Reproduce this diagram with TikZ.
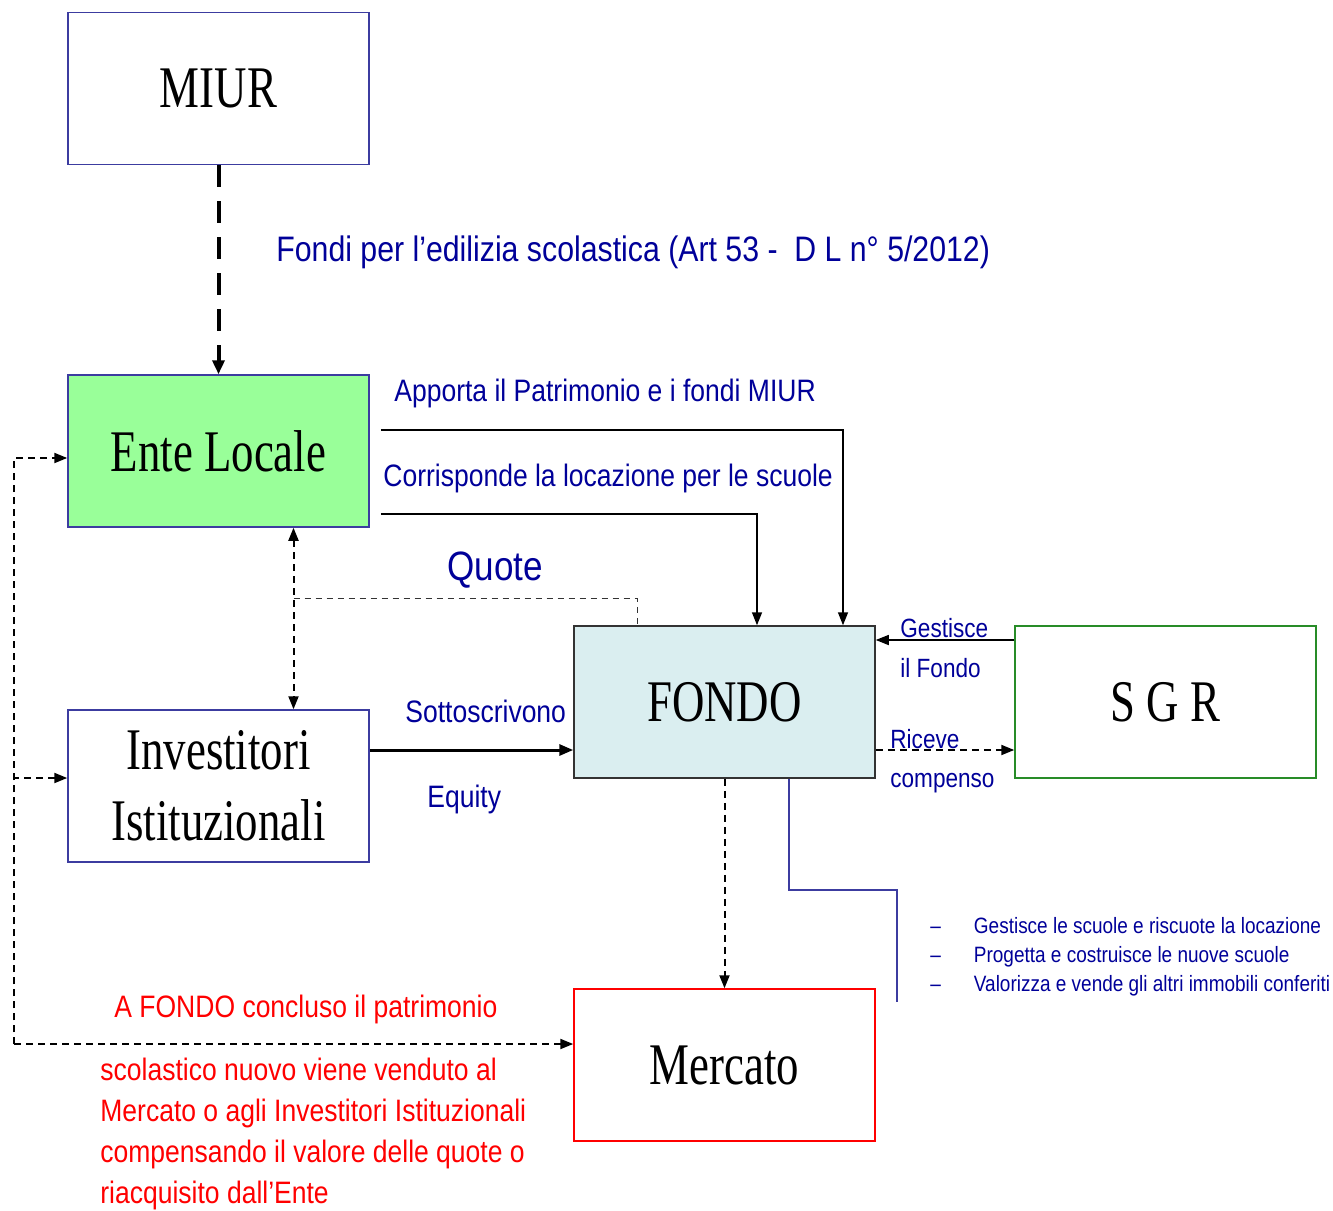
\documentclass[tikz,border=0pt]{standalone}
\usepackage{fontspec}
\setmainfont{Liberation Sans}[FakeStretch=0.855]
\newfontfamily\boxfont{Liberation Serif}[FakeStretch=0.76]
\usetikzlibrary{arrows.meta}
\usetikzlibrary{calc}
\usetikzlibrary{positioning}

\definecolor{labelblue}{RGB}{0,0,153}
\definecolor{boxblue}{RGB}{60,60,160}
\definecolor{entegreen}{RGB}{153,255,153}
\definecolor{fondofill}{RGB}{218,238,240}
\definecolor{sgrgreen}{RGB}{40,140,40}
\definecolor{mercred}{RGB}{255,0,0}

\begin{document}
\begin{tikzpicture}[x=0.5pt,y=-0.5pt,
    box/.style={draw=boxblue,line width=0.75pt,minimum width=150.5pt,minimum height=76pt,inner sep=0pt,align=center,font=\boxfont\fontsize{29.5}{35.4}\selectfont},
    lbl/.style={text=labelblue,anchor=base west,inner sep=0pt,font=\fontsize{15.5}{18.6}\selectfont},
    flow/.style={-{Triangle[length=6.5pt,width=5pt]},line width=0.75pt},
    dline/.style={dash pattern=on 3.5pt off 2.5pt,line width=1pt}]
    \useasboundingbox (0,0) rectangle (1333,1210);

    \node[box] (miur) at (218.5,88.5) {MIUR};
    \node[box,fill=entegreen] (ente) at (218.5,451) {Ente Locale};
    \node[box] (invest) at (218.5,786) {Investitori\\Istituzionali};
    \node[box,draw=black!80,fill=fondofill] (fondo) at (724.5,702) {FONDO};
    \node[box,draw=sgrgreen] (sgr) at (1165.5,702) {S G R};
    \node[box,draw=mercred] (mercato) at (724.5,1065) {Mercato};

    \node[lbl,font=\fontsize{17.7}{21.2}\selectfont] (fondi) at (276,261) {Fondi per l’edilizia scolastica (Art 53 -\ \ D L n° 5/2012)};
    \node[lbl] (apporta) at (394,401) {Apporta il Patrimonio e i fondi MIUR};
    \node[lbl] (corrisp) at (383,486) {Corrisponde la locazione per le scuole};
    \node[lbl,font=\fontsize{20.5}{24.6}\selectfont] (quote) at (447,580) {Quote};
    \node[lbl] (sottos) at (405,722) {Sottoscrivono};
    \node[lbl] (equity) at (427,807) {Equity};
    \node[lbl,font=\fontsize{13.2}{16}\selectfont] (gest) at (900,637) {Gestisce};
    \node[lbl,font=\fontsize{13.2}{16}\selectfont] (ilfondo) at (900,677) {il Fondo};
    \node[lbl,font=\fontsize{13.2}{16}\selectfont] (riceve) at (890,748) {Riceve};
    \node[lbl,font=\fontsize{13.2}{16}\selectfont] (compenso) at (890,787) {compenso};

    \node[lbl,font=\fontsize{11.1}{14.6}\selectfont] (tasks) at (930,933) {\begin{tabular}[t]{@{}l@{\hspace{16.5pt}}l@{}}
        – & Gestisce le scuole e riscuote la locazione\\
        – & Progetta e costruisce le nuove scuole\\
        – & Valorizza e vende gli altri immobili conferiti
      \end{tabular}};

    \node[lbl,text=mercred] (fine) at (114,1017) {A FONDO concluso il patrimonio};
    \node[lbl,text=mercred,font=\fontsize{15.5}{20.6}\selectfont] (finetxt) at (100,1080) {\begin{tabular}[t]{@{}l@{}}
        scolastico nuovo viene venduto al\\
        Mercato o agli Investitori Istituzionali\\
        compensando il valore delle quote o\\
        riacquisito dall’Ente
      \end{tabular}};

    % MIUR finanzia l'ente
    \draw[-{Triangle[length=7pt,width=6pt]},line width=2pt,dash pattern=on 11pt off 7pt] (miur) -- (ente);

    % ente -> fondo
    \draw[flow] ($(ente.east)+(11,-21)$) -| ($(fondo.north)+(118.5,0)$);
    \draw[flow] ($(ente.east)+(11,63)$) -| ($(fondo.north)+(32.5,0)$);

    % quote
    \draw[dline,{Triangle[length=6.5pt,width=5pt]}-{Triangle[length=6.5pt,width=5pt]}] ($(ente.south)+(75,0)$) -- ($(invest.north)+(75,0)$);
    \draw[dash pattern=on 3pt off 2.5pt,line width=0.6pt,black!80] ($(ente.south)+(75,71)$) -| ($(fondo.north)+(-87,0)$);

    % investitori sottoscrivono
    \draw[-{Triangle[length=7pt,width=5.5pt]},line width=1.5pt] ($(invest.east)+(0,-36)$) coordinate (sott) -- (sott -| fondo.west);

    % SGR
    \draw[flow] ($(sgr.west)+(0,-62)$) coordinate (gsgr) -- (gsgr -| fondo.east);
    \draw[dline,-{Triangle[length=6.5pt,width=5pt]}] ($(fondo.east)+(0,48)$) coordinate (rsgr) -- (rsgr -| sgr.west);

    % fondo -> mercato
    \draw[dline,-{Triangle[length=6.5pt,width=5pt]}] (fondo) -- (mercato);

    % compiti del fondo
    \coordinate (taskend) at (897,1002);
    \draw[boxblue,line width=0.75pt] ($(fondo.south)+(64.5,0)$) |- (taskend |- 0,890) -- (taskend);

    % ritorno a fine fondo
    \coordinate (bus) at (14,1044);
    \draw[dline,-{Triangle[length=6.5pt,width=5pt]}] (bus) |- ($(ente.west)+(0,7)$);
    \draw[dline,-{Triangle[length=6.5pt,width=5pt]}] (bus) |- ($(invest.west)+(0,-8)$);
    \draw[dline,-{Triangle[length=6.5pt,width=5pt]}] (bus) -- (bus -| mercato.west);

  \end{tikzpicture}
\end{document}
